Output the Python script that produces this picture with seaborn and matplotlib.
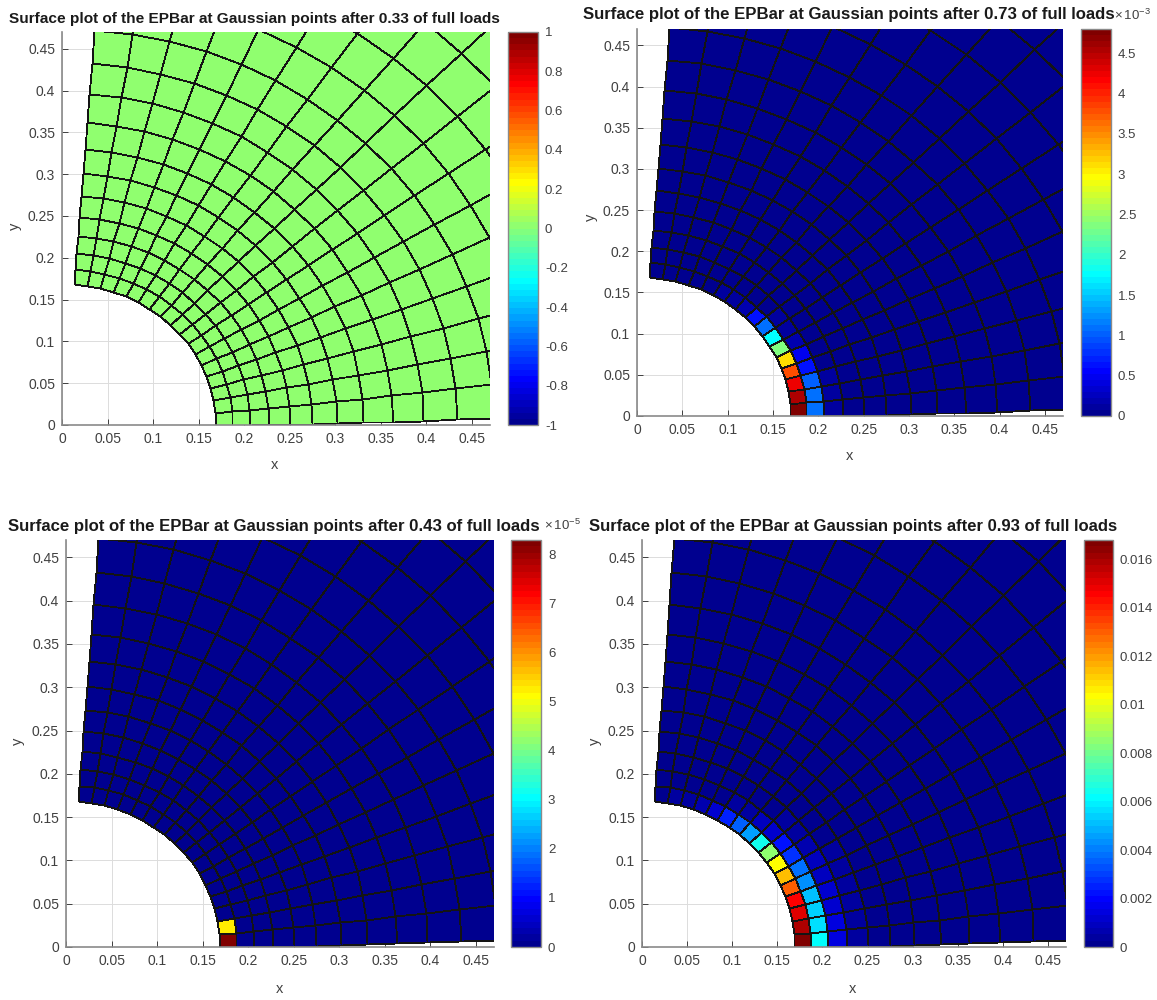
import numpy as np
import matplotlib
matplotlib.use("Agg")
import matplotlib.pyplot as plt
from matplotlib.colors import ListedColormap, LinearSegmentedColormap
import seaborn as sns

# mesh: ring radii and spoke angles (deg)
radii = [0.169, 0.187, 0.206, 0.227, 0.25, 0.275, 0.302, 0.331, 0.363, 0.397, 0.434,
         0.474, 0.52, 0.57, 0.625, 0.685]
angles_hole = [0, 5.0, 10.2, 15.3, 20.3, 25.2, 30.2, 35.3, 40.3, 45.3, 50.4, 55.4,
               60.4, 65.5, 70.5, 75.6, 80.6, 85.6]
angles_far = [1.0, 5.9, 10.7, 15.6, 20.5, 25.5, 30.4, 35.4, 40.4, 45.4, 50.4, 55.4,
              60.4, 65.5, 70.5, 75.6, 80.6, 85.7]

# element values, one list per ring counted from the hole, starting at the x axis
ep33_ring1 = [0.0]
ep43_ring1 = [8.3, 5.2]
ep73_ring1 = [4.8, 4.55, 4.2, 3.75, 3.1, 2.35, 1.75, 1.05, 0.65, 0.2, 0.12, 0.08]
ep73_ring2 = [1.1, 1.05, 1.0, 0.65, 0.45, 0.2, 0.1, 0.08, 0.05]
ep73_ring3 = [0.1, 0.1, 0.08, 0.06, 0.05, 0.04]
ep93_ring1 = [0.0168, 0.016, 0.0152, 0.0145, 0.013, 0.0115, 0.0104, 0.0085, 0.0063,
              0.0045, 0.0035, 0.0025, 0.0012, 0.0006, 0.0004, 0.0003, 0.0002]
ep93_ring2 = [0.0062, 0.0056, 0.0055, 0.005, 0.0043, 0.0038, 0.0028, 0.0021, 0.0013,
              0.0008, 0.0005, 0.0003, 0.0002]
ep93_ring3 = [0.0015, 0.0014, 0.0012, 0.0011, 0.001, 0.0009, 0.0007, 0.0005, 0.0004,
              0.0002, 0.0002]
ep93_ring4 = [0.0005, 0.0005, 0.0004, 0.0004, 0.0003, 0.0003, 0.0002, 0.0002]

axis_ticks = [0, 0.05, 0.1, 0.15, 0.2, 0.25, 0.3, 0.35, 0.4, 0.45]
axis_labels = ["0", "0.05", "0.1", "0.15", "0.2", "0.25", "0.3", "0.35", "0.4", "0.45"]

cbar33_ticks = [-1, -0.8, -0.6, -0.4, -0.2, 0, 0.2, 0.4, 0.6, 0.8, 1]
cbar33_labels = ["-1", "-0.8", "-0.6", "-0.4", "-0.2", "0", "0.2", "0.4", "0.6", "0.8", "1"]
cbar73_ticks = [0, 0.5, 1, 1.5, 2, 2.5, 3, 3.5, 4, 4.5]
cbar73_labels = ["0", "0.5", "1", "1.5", "2", "2.5", "3", "3.5", "4", "4.5"]
cbar43_ticks = [0, 1, 2, 3, 4, 5, 6, 7, 8]
cbar43_labels = ["0", "1", "2", "3", "4", "5", "6", "7", "8"]
cbar93_ticks = [0, 0.002, 0.004, 0.006, 0.008, 0.01, 0.012, 0.014, 0.016]
cbar93_labels = ["0", "0.002", "0.004", "0.006", "0.008", "0.01", "0.012", "0.014", "0.016"]

W, H = 1157, 1000
GRAY = "#404040"

sns.set_theme(style="ticks")
plt.rcParams["font.family"] = ["Liberation Sans", "DejaVu Sans"]
plt.rcParams["mathtext.default"] = "regular"

# MATLAB style jet with 64 levels
jet_base = LinearSegmentedColormap.from_list("jet64", [
    (0, (0, 0, 0.5)), (0.125, (0, 0, 1)), (0.375, (0, 1, 1)),
    (0.625, (1, 1, 0)), (0.875, (1, 0, 0)), (1, (0.5, 0, 0))], N=640)
jet = ListedColormap(sns.color_palette([jet_base((i + 1) / 64) for i in range(64)]))

# spokes drift a little between the hole and the far field
r = np.array(radii)
blend = np.clip((r - r[0]) / 0.3, 0, 1.5)
theta = np.radians(np.array(angles_hole)[:, None] * (1 - blend) + np.array(angles_far)[:, None] * blend)
X = r * np.cos(theta)
Y = r * np.sin(theta)


def field(*rings):
    values = np.zeros((len(angles_hole) - 1, len(radii) - 1))
    for i, ring in enumerate(rings):
        values[:len(ring), i] = ring
    return values


def rect(left, top, right, bottom):
    return [left / W, 1 - bottom / H, (right - left) / W, (bottom - top) / H]


def panel(box, cbox, values, vmin, vmax, ticks, labels, title, title_xy, title_size,
          xlabel_xy, ylabel_xy):
    ax = fig.add_axes(rect(*box))
    mesh = ax.pcolormesh(X, Y, values, cmap=jet, vmin=vmin, vmax=vmax,
                         edgecolors="#141414", linewidth=0.6, zorder=2)
    ax.set_xlim(0, 0.47)
    ax.set_ylim(0, 0.47)
    ax.set_xticks(axis_ticks, axis_labels)
    ax.set_yticks(axis_ticks, axis_labels)
    ax.grid(True, color="#dcdcdc", linewidth=0.7)
    ax.set_axisbelow(True)
    ax.tick_params(direction="in", length=4, width=0.7, color=GRAY, labelcolor=GRAY,
                   labelsize=10, pad=5)
    sns.despine(ax=ax)
    for side in ["left", "bottom"]:
        ax.spines[side].set_color("#8a8a8a")
        ax.spines[side].set_linewidth(1.2)

    cax = fig.add_axes(rect(*cbox))
    cbar = fig.colorbar(mesh, cax=cax, ticks=ticks)
    cbar.set_ticklabels(labels)
    cbar.ax.tick_params(direction="in", length=3, width=0.7, color=GRAY, labelcolor=GRAY,
                        labelsize=9.5, pad=5)
    cbar.outline.set_edgecolor("#8a8a8a")
    cbar.outline.set_linewidth(1.0)

    fig.text(title_xy[0] / W, 1 - title_xy[1] / H, title, fontsize=title_size,
             fontweight="bold", color="#1a1a1a", ha="left", va="center")
    fig.text(xlabel_xy[0] / W, 1 - xlabel_xy[1] / H, "x", fontsize=10.5, color=GRAY,
             ha="center", va="center")
    fig.text(ylabel_xy[0] / W, 1 - ylabel_xy[1] / H, "y", fontsize=10.5, color=GRAY,
             rotation=90, ha="center", va="center")


fig = plt.figure(figsize=(W / 100, H / 100), dpi=100)

panel((62, 32, 490, 425), (508, 32, 538, 425), field(ep33_ring1), -1, 1,
      cbar33_ticks, cbar33_labels,
      "Surface plot of the EPBar at Gaussian points after 0.33 of full loads",
      (9, 19), 11.07, (275, 465), (15, 226))

panel((637, 29, 1063, 416), (1081, 29, 1111, 416),
      field(ep73_ring1, ep73_ring2, ep73_ring3), 0, 4.8,
      cbar73_ticks, cbar73_labels,
      "Surface plot of the EPBar at Gaussian points after 0.73 of full loads",
      (583, 14), 12.08, (850, 456), (591, 217))
fig.text(1114 / W, 1 - 15 / H, r"$\times\,10^{-3}$", fontsize=9.5, color=GRAY, ha="left", va="center")

panel((66, 540, 494, 947), (511, 540, 541, 947), field(ep43_ring1), 0, 8.3,
      cbar43_ticks, cbar43_labels,
      "Surface plot of the EPBar at Gaussian points after 0.43 of full loads",
      (8, 526), 12.1, (280, 989), (18, 741))
fig.text(544 / W, 1 - 525 / H, r"$\times\,10^{-5}$", fontsize=9.5, color=GRAY, ha="left", va="center")

panel((642, 540, 1066, 947), (1084, 540, 1113, 947),
      field(ep93_ring1, ep93_ring2, ep93_ring3, ep93_ring4), 0, 0.0168,
      cbar93_ticks, cbar93_labels,
      "Surface plot of the EPBar at Gaussian points after 0.93 of full loads",
      (589, 526), 11.97, (853, 989), (595, 741))

fig.savefig("out.png", dpi=100)
